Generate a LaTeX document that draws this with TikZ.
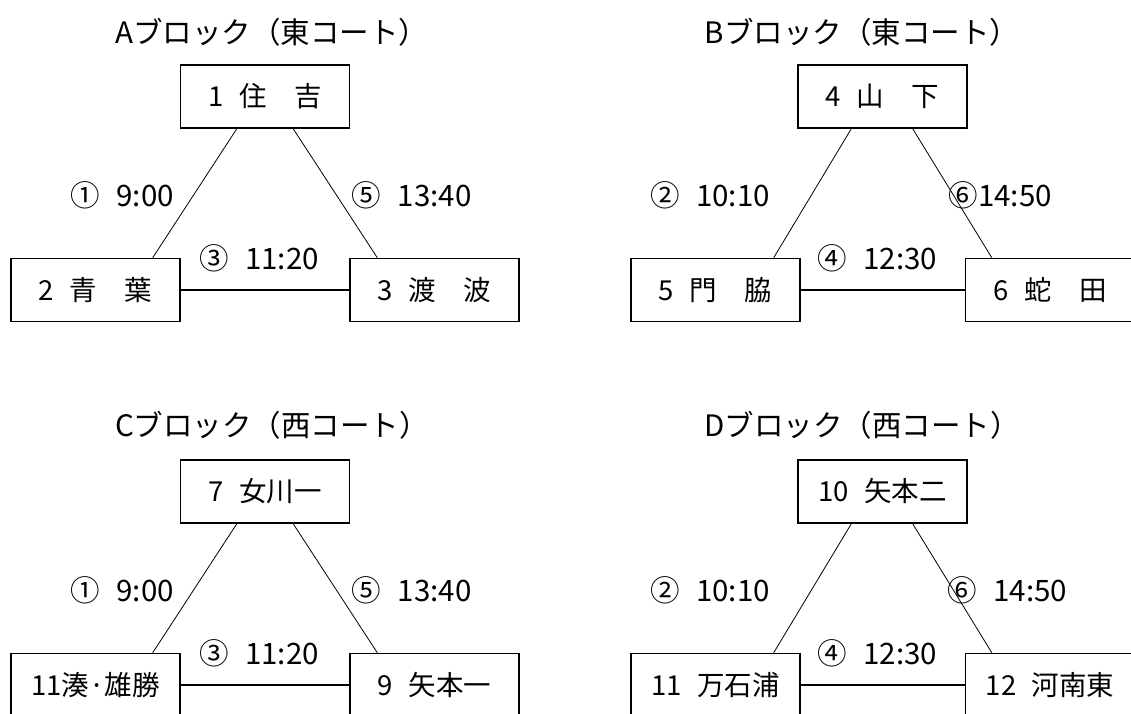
\documentclass[tikz,border=0pt]{standalone}
\usepackage{fontspec}
\setmainfont{Noto Sans CJK JP}[WordSpace=2.5]
\usetikzlibrary{positioning,calc}
\tikzset{%
  % Specifications for style of nodes:
           team/.style = {rectangle, draw=black, line width=1.2pt,
                          minimum width=169pt, minimum height=63pt,
                          text centered, font=\fontsize{27.5}{31}\selectfont},
        heading/.style = {font=\fontsize{29.5}{34}\selectfont},
          match/.style = {font=\fontsize{29.5}{33}\selectfont},
           game/.style = {line width=0.8pt},
          final/.style = {line width=1.2pt},
}

\begin{document}
\begin{tikzpicture}[x=1pt, y=1pt, node distance=193.5pt]
  \useasboundingbox (0,0) rectangle (1131,713);
  \clip (0,0) rectangle (1131,713);
  % Specification of nodes (position, etc.)

  \node (atitle)        [heading] at (272,681) {Aブロック（東コート）};
  \node (btitle)        [heading] at (862,681) {Bブロック（東コート）};
  \node (ctitle)        [heading] at (272,288) {Cブロック（西コート）};
  \node (dtitle)        [heading] at (862,288) {Dブロック（西コート）};

  \node (a1)            [team] at (265,616.5) {1 住　吉};
  \node (a2)            [team, below of=a1, xshift=-169.5pt] {2 青　葉};
  \node (a3)            [team, below of=a1, xshift=169.5pt] {3 渡　波};
  \node (b1)            [team, right of=a1, xshift=424pt] {4 山　下};
  \node (b2)            [team, below of=b1, xshift=-167pt] {5 門　脇};
  \node (b3)            [team, below of=b1, xshift=167.5pt] {6 蛇　田};
  \node (c1)            [team, below of=a1, yshift=-201.5pt] {7 女川一};
  \node (c2)            [team, below of=c1, xshift=-169.5pt] {11湊·雄勝};
  \node (c3)            [team, below of=c1, xshift=169.5pt] {9 矢本一};
  \node (d1)            [team, below of=b1, yshift=-201.5pt] {10 矢本二};
  \node (d2)            [team, below of=d1, xshift=-167pt] {11 万石浦};
  \node (d3)            [team, below of=d1, xshift=167.5pt] {12 河南東};

  \draw[game]           ($(a1.south west)+(57,0)$) -- ($(a2.north east)+(-28,0)$) node[match, midway, xshift=-72.5pt, yshift=-2pt] {① 9:00};
  \draw[game]           ($(a1.south east)+(-57,0)$) -- ($(a3.north west)+(28,0)$) node[match, midway, xshift=76.5pt, yshift=-2pt] {⑤ 13:40};
  \draw[final]          (a2) -- (a3) node[match, midway, xshift=-6pt, yshift=32pt] {③ 11:20};

  \draw[game]           ($(b1.south west)+(54,0)$) -- ($(b2.north east)+(-27,0)$) node[match, midway, xshift=-102.5pt, yshift=-2pt] {② 10:10};
  \draw[game]           ($(b1.south east)+(-55,0)$) -- ($(b3.north west)+(27,0)$) node[match, midway, xshift=48pt, yshift=-2pt] {⑥14:50};
  \draw[final]          (b2) -- (b3) node[match, midway, xshift=-5.5pt, yshift=32pt] {④ 12:30};

  \draw[game]           ($(c1.south west)+(57,0)$) -- ($(c2.north east)+(-28,0)$) node[match, midway, xshift=-72.5pt, yshift=-2pt] {① 9:00};
  \draw[game]           ($(c1.south east)+(-57,0)$) -- ($(c3.north west)+(28,0)$) node[match, midway, xshift=76.5pt, yshift=-2pt] {⑤ 13:40};
  \draw[final]          (c2) -- (c3) node[match, midway, xshift=-6pt, yshift=32pt] {③ 11:20};

  \draw[game]           ($(d1.south west)+(54,0)$) -- ($(d2.north east)+(-27,0)$) node[match, midway, xshift=-102.5pt, yshift=-2pt] {② 10:10};
  \draw[game]           ($(d1.south east)+(-55,0)$) -- ($(d3.north west)+(27,0)$) node[match, midway, xshift=55pt, yshift=-2pt] {⑥ 14:50};
  \draw[final]          (d2) -- (d3) node[match, midway, xshift=-5.5pt, yshift=32pt] {④ 12:30};
\end{tikzpicture}
\end{document}
